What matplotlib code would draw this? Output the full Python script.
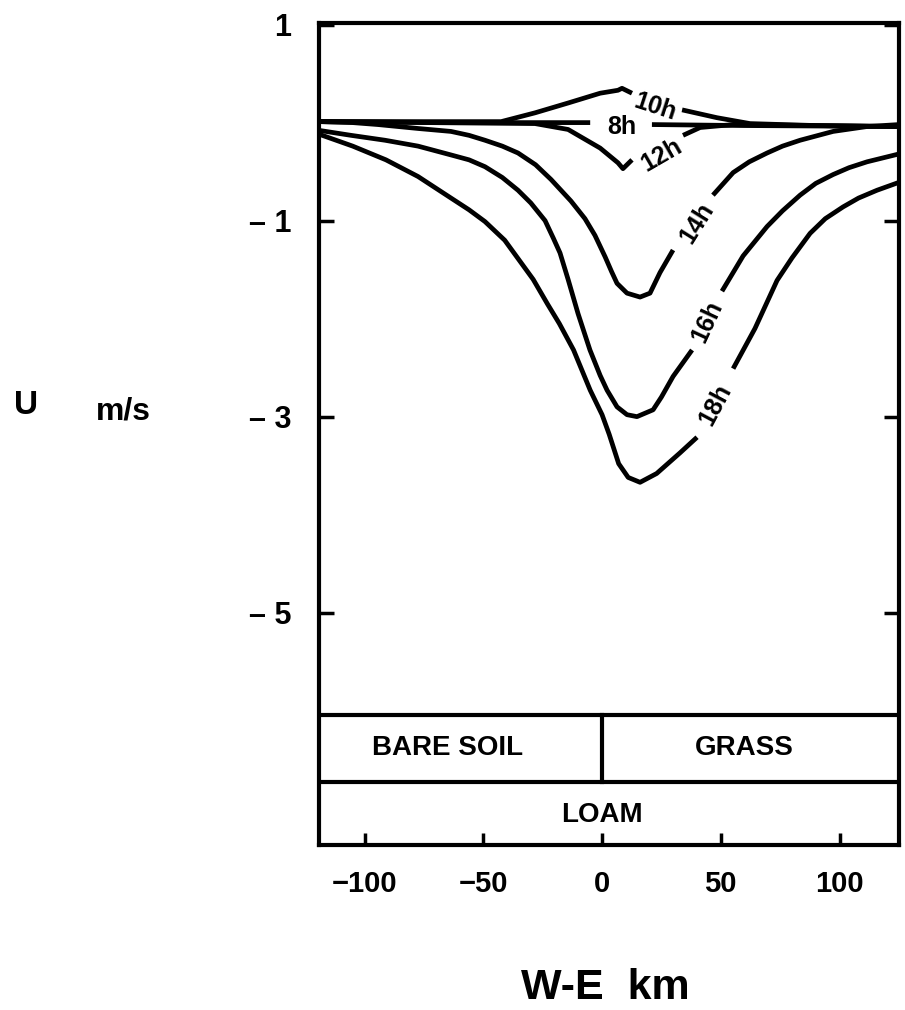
"""
Perfil W-E da componente U do vento (m/s) para varias horas do dia,
sobre solo nu / relva (loam).
"""

import numpy as np
import matplotlib
matplotlib.use('Agg')
import matplotlib.pyplot as plt
from matplotlib import font_manager

nan = np.nan

# curvas (km, m/s); nan = intervalo onde esta o rotulo
x_8h = [-119, -60, -5, nan, 21, 60, 125]
u_8h = [0.01, 0.0, 0.0, nan, -0.02, -0.03, -0.04]

x_10h = [-119, -42.5, -28.2, -14.3, -0.8, 6.7, 8.4, 12.6, nan, 33.7, 48.4, 62.3, 90, 125]
u_10h = [0.01, 0.01, 0.10, 0.20, 0.30, 0.33, 0.35, 0.30, nan, 0.13, 0.05, -0.01, -0.03, -0.04]

x_12h = [-119, -28.2, -14.3, -7.2, -0.8, 6.7, 8.8, 12.6, nan, 34.1, 41.3, 55.2, 90, 125]
u_12h = [0.01, -0.01, -0.07, -0.17, -0.26, -0.41, -0.47, -0.38, nan, -0.13, -0.05, -0.02, -0.03, -0.04]

x_14h = [-119, -105, -94.3, -77.5, -63.6, -56, -49.3, -42, -35.4, -28, -21.5, -13.1, -7.2,
         -3, 1.3, 4, 6.3, 10.5, 16.0, 20.2, 24.4, 29.9, nan,
         46.7, 55.2, 62, 69.5, 76, 83.4, 97.3, 111.6, 125]
u_14h = [0.01, 0.0, -0.02, -0.06, -0.09, -0.13, -0.18, -0.24, -0.31, -0.43, -0.58, -0.80, -0.98,
         -1.15, -1.37, -1.52, -1.64, -1.74, -1.78, -1.74, -1.53, -1.30, nan,
         -0.74, -0.51, -0.40, -0.31, -0.24, -0.18, -0.09, -0.04, -0.02]

x_16h = [-119, -105.7, -91.4, -77.5, -63.6, -56, -49.3, -42, -35.4, -30, -24, -20.5, -17.7,
         -14.3, -10.1, -5.1, -0.8, 2.1, 6.3, 10.5, 14.7, 21.5, 25, 29.9, 37.9, nan,
         50.5, 59.4, 69.5, 76, 83.4, 90, 97.3, 104, 111.6, 125]
u_16h = [-0.08, -0.13, -0.18, -0.24, -0.33, -0.38, -0.45, -0.56, -0.69, -0.82, -1.0, -1.18, -1.33,
         -1.60, -1.95, -2.32, -2.58, -2.73, -2.90, -2.98, -3.00, -2.93, -2.80, -2.59, -2.32, nan,
         -1.72, -1.36, -1.06, -0.90, -0.74, -0.62, -0.53, -0.46, -0.40, -0.32]

x_18h = [-119, -105, -91, -77.5, -63.6, -56, -49.3, -41, -35, -29, -23, -18, -12, -5, 0,
         3, 7, 11, 16, 23, 32.8, 40, nan,
         55.2, 64.4, 73.7, 80, 87.6, 94, 101.5, 108, 115.8, 125]
u_18h = [-0.12, -0.24, -0.38, -0.55, -0.77, -0.89, -1.01, -1.20, -1.40, -1.60, -1.85, -2.05, -2.32, -2.73, -2.98,
         -3.18, -3.48, -3.62, -3.67, -3.58, -3.37, -3.21, nan,
         -2.51, -2.10, -1.61, -1.38, -1.13, -0.98, -0.86, -0.77, -0.69, -0.61]

curvas = [(x_8h, u_8h), (x_10h, u_10h), (x_12h, u_12h),
          (x_14h, u_14h), (x_16h, u_16h), (x_18h, u_18h)]

# rotulos das curvas: texto, x, u, rotacao
rotulos = [('10h', 22.3, 0.16, -18), ('8h', 8.4, -0.04, 0), ('12h', 25.0, -0.33, 30),
           ('14h', 40.0, -1.02, 58), ('16h', 44.2, -2.03, 65), ('18h', 47.6, -2.88, 62)]

y_ticks = [1, -1, -3, -5]
y_labels = ['1', '\u2013 1', '\u2013 3', '\u2013 5']
x_ticks = [-100, -50, 0, 50, 100]
x_labels = ['\u2212100', '\u221250', '0', '50', '100']

solo_topo, solo_meio = -6.04, -6.73

nomes = {f.name for f in font_manager.fontManager.ttflist}
fonte = 'Liberation Sans' if 'Liberation Sans' in nomes else 'DejaVu Sans'
plt.rcParams['font.family'] = fonte
plt.rcParams['font.weight'] = 'bold'

fig = plt.figure(figsize=(9.05, 10.1), dpi=100)
ax = fig.add_axes([0.3525, 0.1634, 0.641, 0.8139])

for x, u in curvas:
    ax.plot(x, u, color='black', lw=3.4, solid_capstyle='butt', solid_joinstyle='round')

for txt, x, u, rot in rotulos:
    ax.text(x, u, txt, fontsize=18, fontweight='bold', rotation=rot,
            ha='center', va='center', rotation_mode='anchor')

# caixas de tipo de solo
ax.axhline(solo_topo, color='black', lw=3)
ax.axhline(solo_meio, color='black', lw=3)
ax.plot([0, 0], [solo_topo, solo_meio], color='black', lw=3)
ax.text(-65, (solo_topo + solo_meio) / 2, 'BARE SOIL', fontsize=20, fontweight='bold',
        ha='center', va='center')
ax.text(60, (solo_topo + solo_meio) / 2, 'GRASS', fontsize=20, fontweight='bold',
        ha='center', va='center')
ax.text(0, -7.06, 'LOAM', fontsize=20, fontweight='bold', ha='center', va='center')

ax.set_xlim(-119.2, 125.1)
ax.set_ylim(-7.37, 1.017)

ax.set_yticks(y_ticks)
ax.set_yticklabels(y_labels, fontsize=22, fontweight='bold')
ax.set_xticks(x_ticks)
ax.set_xticklabels(x_labels, fontsize=21, fontweight='bold')
ax.tick_params(axis='y', direction='in', length=11, width=2.5, right=True, pad=20)
ax.tick_params(axis='x', direction='in', length=9, width=2.5, pad=18)

for s in ax.spines.values():
    s.set_linewidth(3)

fig.text(26 / 905, 1 - 406 / 1010, 'U', fontsize=24, fontweight='bold', ha='center', va='center')
fig.text(123 / 905, 1 - 412 / 1010, 'm/s', fontsize=23, fontweight='bold', ha='center', va='center')
fig.text(605 / 905, 1 - 988 / 1010, 'W-E  km', fontsize=31, fontweight='bold', ha='center', va='center')

fig.savefig('out.png', dpi=100)
